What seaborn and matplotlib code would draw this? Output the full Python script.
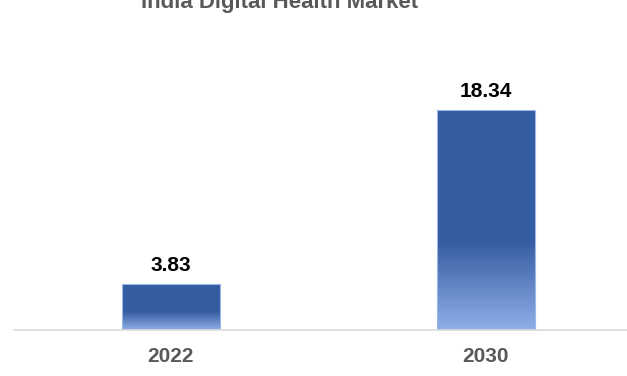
import numpy as np
import pandas as pd
import matplotlib
matplotlib.use('Agg')
import matplotlib.pyplot as plt
import seaborn as sns
from matplotlib.colors import LinearSegmentedColormap

years = ['2022', '2030']
market_size = [3.83, 18.34]
title = 'India Digital Health Market'

df = pd.DataFrame({'year': years, 'value': market_size})

sns.set_theme(style='white')
plt.rcParams['font.family'] = ['Liberation Sans', 'DejaVu Sans']

fig = plt.figure(figsize=(6.27, 3.76), dpi=100)
W, H = 627, 376
# axes box in pixels: left, bottom, width, height
ax = fig.add_axes([13.5 / W, (H - 330) / H, 630 / W, 300 / H])

sns.barplot(data=df, x='year', y='value', ax=ax, width=0.31,
            color='#345CA0', edgecolor='#9DB7E8', linewidth=0.8)

# gradient fill: solid top, fading to light blue near the bottom
cmap = LinearSegmentedColormap.from_list(
    'bar', [(0.0, '#8FAEE8'), (0.4, '#355DA2'), (1.0, '#345CA0')])
grad = np.linspace(0, 1, 256).reshape(-1, 1)
for p in ax.patches:
    x0, y0 = p.get_x(), p.get_y()
    w, h = p.get_width(), p.get_height()
    im = ax.imshow(grad, cmap=cmap, aspect='auto', origin='lower',
                   extent=[x0, x0 + w, y0, y0 + h], zorder=p.get_zorder())
    im.set_clip_path(p)
    p.set_facecolor('none')
    p.set_zorder(im.get_zorder() + 0.1)
    ax.text(x0 + w / 2, y0 + h + 1.08, f'{h:.2f}', ha='center', va='baseline',
            fontsize=15, fontweight='bold', color='black')

ax.set_xlim(-0.5, 1.5)
ax.set_ylim(0, 300 / 12)

ax.set_xlabel('')
ax.set_ylabel('')
ax.set_yticks([])
ax.tick_params(axis='x', length=0, pad=12, labelsize=15, labelcolor='#595959')
for lbl in ax.get_xticklabels():
    lbl.set_fontweight('bold')
for s in ['top', 'right', 'left']:
    ax.spines[s].set_visible(False)
ax.spines['bottom'].set_color('#D9D9D9')
ax.spines['bottom'].set_linewidth(1.2)

fig.text(280 / W, 1 - 8 / H, title, ha='center', va='baseline',
         fontsize=16, fontweight='bold', color='#595959')

fig.savefig('out.png', dpi=100)
